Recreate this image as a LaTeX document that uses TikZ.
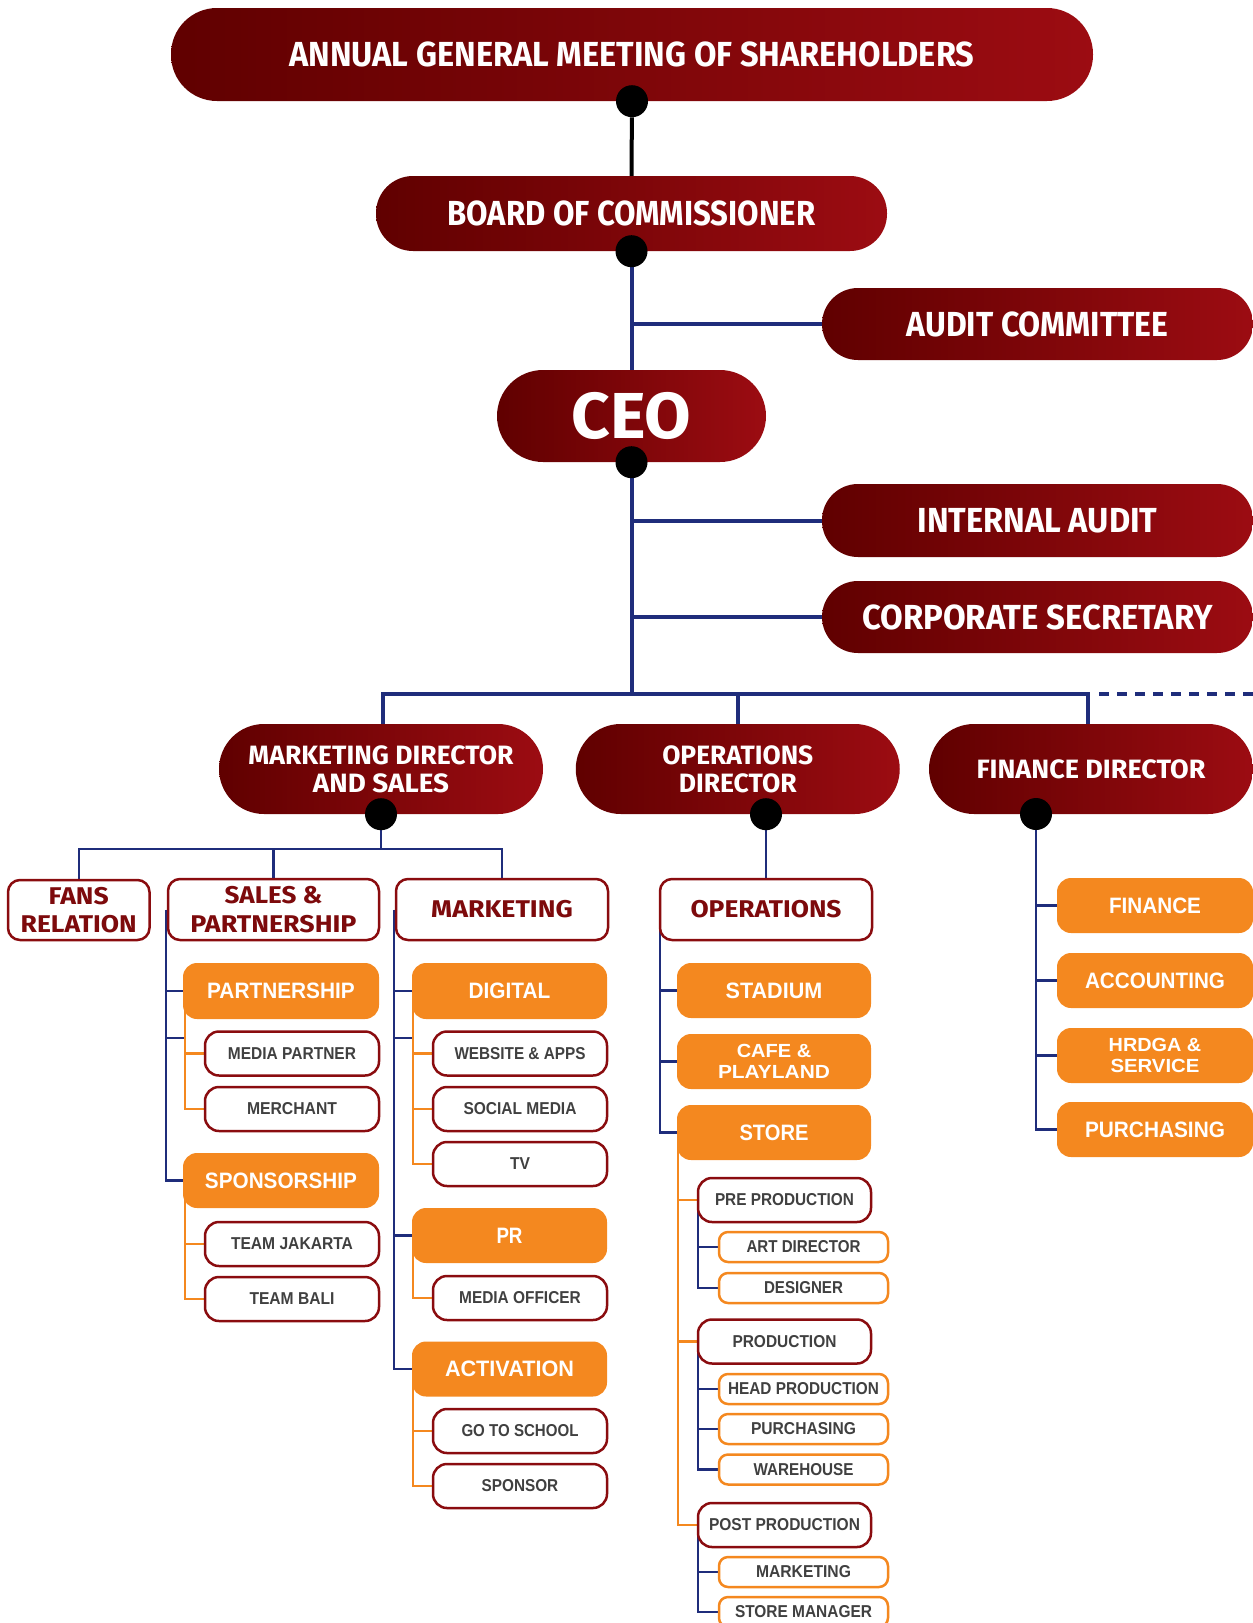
\documentclass[tikz,border=0pt]{standalone}
\usepackage{fontspec}
\usepackage{graphicx}
\setmainfont{Liberation Sans}
\newfontfamily\titlef{Fira Sans}
\definecolor{darkL}{HTML}{600000}
\definecolor{darkR}{HTML}{9C0C12}
\definecolor{navy}{HTML}{1F2D7B}
\definecolor{orng}{HTML}{F4881F}
\definecolor{boxred}{HTML}{8A0C0F}
\definecolor{txtred}{HTML}{7D0A0C}
\definecolor{txtgrey}{HTML}{404040}
\newcommand\TW[2]{\resizebox{#1pt}{\height}{#2}}
\pgfdeclarelayer{bg}
\pgfsetlayers{bg,main}
\tikzset{
  pill/.style={shade, left color=darkL, right color=darkR, text=white, inner sep=0pt, align=center},
  bigf/.style={font=\titlef\bfseries\fontsize{34.8}{40}\selectfont},
  dirf/.style={font=\titlef\bfseries\fontsize{26.5}{28}\selectfont},
  lvone/.style={draw=boxred, line width=2.5pt, fill=white, rounded corners=12pt, text=txtred, inner sep=0pt, align=center, minimum height=61pt, font=\titlef\bfseries\fontsize{24.2}{28.5}\selectfont},
  obox/.style={fill=orng, rounded corners=14pt, text=white, inner sep=0pt, align=center, minimum height=55pt, minimum width=195pt, font=\bfseries\fontsize{22.3}{26}\selectfont},
  otwo/.style={font=\bfseries\fontsize{19}{20.7}\selectfont},
  subw/.style={draw=boxred, line width=2.5pt, fill=white, rounded corners=14pt, text=txtgrey, inner sep=0pt, minimum height=44pt, minimum width=174pt, font=\bfseries\fontsize{17.2}{20}\selectfont},
  subo/.style={draw=orng, line width=2.5pt, fill=white, rounded corners=9pt, text=txtgrey, inner sep=0pt, minimum height=30pt, minimum width=169pt, font=\bfseries\fontsize{17.2}{20}\selectfont},
  dotn/.style={circle, fill=black, minimum size=32pt, inner sep=0pt},
  bthick/.style={draw=navy, line width=4pt},
  bline/.style={draw=navy, line width=2.5pt},
  oline/.style={draw=orng, line width=2.5pt}
}
\begin{document}
\begin{tikzpicture}[x=1pt,y=-1pt]
\useasboundingbox (0,0) rectangle (1253,1623);
\clip (0,0) rectangle (1253,1623);

% ---------- top level ----------
\node[pill, bigf, minimum width=922pt, minimum height=93pt, rounded corners=46pt] (agm) at (632,54.5) {\TW{685}{ANNUAL GENERAL MEETING OF SHAREHOLDERS}};
\node[pill, bigf, minimum width=511pt, minimum height=75pt, rounded corners=37pt] (board) at (631.5,213.5) {\TW{368}{BOARD OF COMMISSIONER}};
\node[pill, bigf, minimum width=431pt, minimum height=72pt, rounded corners=36pt] (ac) at (1037.5,324) {\TW{261.5}{AUDIT COMMITTEE}};
\node[pill, font=\titlef\bfseries\fontsize{65}{70}\selectfont, minimum width=269pt, minimum height=92pt, rounded corners=46pt] (ceo) at (631.5,416) {\TW{120}{CEO}};
\node[pill, bigf, minimum width=431pt, minimum height=73pt, rounded corners=36pt] (ia) at (1037.5,520.5) {\TW{240}{INTERNAL AUDIT}};
\node[pill, bigf, minimum width=431pt, minimum height=72pt, rounded corners=36pt] (cs) at (1037.5,617) {\TW{351}{CORPORATE SECRETARY}};

% ---------- directors ----------
\node[pill, dirf, minimum width=324pt, minimum height=90pt, rounded corners=45pt] (md) at (381,769) {\TW{265}{MARKETING DIRECTOR}\\\TW{136}{AND SALES}};
\node[pill, dirf, minimum width=324pt, minimum height=90pt, rounded corners=45pt] (od) at (737.75,769) {\TW{151}{OPERATIONS}\\\TW{118}{DIRECTOR}};
\node[pill, dirf, minimum width=324pt, minimum height=90pt, rounded corners=45pt] (fd) at (1091,769) {\TW{229}{FINANCE DIRECTOR}};

% ---------- level one ----------
\node[lvone, minimum width=141.5pt, minimum height=60pt] (fans) at (78.75,910) {\TW{60}{FANS}\\\TW{116}{RELATION}};
\node[lvone, minimum width=211pt] (sales) at (273.5,909.5) {\TW{97.7}{SALES \&}\\\TW{166}{PARTNERSHIP}};
\node[lvone, minimum width=212pt] (mkt) at (502,909.5) {\TW{141.5}{MARKETING}};
\node[lvone, minimum width=212pt] (ops) at (766,909.5) {\TW{151}{OPERATIONS}};

% ---------- orange boxes ----------
\node[obox, minimum width=196pt, minimum height=56pt] (part) at (281,991) {\TW{147.7}{PARTNERSHIP}};
\node[obox, minimum width=196pt] (spon) at (281,1180.5) {\TW{152}{SPONSORSHIP}};
\node[obox, minimum height=56pt] (dig) at (509.5,991) {\TW{81.7}{DIGITAL}};
\node[obox] (pr) at (509.5,1235.5) {\TW{26}{PR}};
\node[obox] (act) at (509.5,1369) {\TW{129}{ACTIVATION}};
\node[obox, minimum width=194pt] (stad) at (774,990.5) {\TW{96.6}{STADIUM}};
\node[obox, otwo, minimum width=194pt] (cafe) at (774,1061.5) {\TW{74.5}{CAFE \&}\\\TW{112}{PLAYLAND}};
\node[obox, minimum width=194pt] (store) at (774,1132.5) {\TW{69}{STORE}};
\node[obox, minimum width=196pt] (fin) at (1155,905.5) {\TW{92}{FINANCE}};
\node[obox, minimum width=196pt] (acc) at (1155,980.5) {\TW{140}{ACCOUNTING}};
\node[obox, otwo, minimum width=196pt] (hr) at (1155,1055.5) {\TW{92.7}{HRDGA \&}\\\TW{89}{SERVICE}};
\node[obox, minimum width=196pt] (fpur) at (1155,1129.5) {\TW{140}{PURCHASING}};

% ---------- white sub boxes ----------
\node[subw] (mp) at (292,1053.5) {\TW{128}{MEDIA PARTNER}};
\node[subw] (mer) at (292,1109) {\TW{90}{MERCHANT}};
\node[subw] (tj) at (292,1244) {\TW{122}{TEAM JAKARTA}};
\node[subw] (tb) at (292,1299) {\TW{85}{TEAM BALI}};
\node[subw] (web) at (520,1053.5) {\TW{131}{WEBSITE \& APPS}};
\node[subw] (soc) at (520,1109) {\TW{113}{SOCIAL MEDIA}};
\node[subw] (tv) at (520,1164) {\TW{20}{TV}};
\node[subw] (mo) at (520,1298) {\TW{121.7}{MEDIA OFFICER}};
\node[subw] (gts) at (520,1431) {\TW{117}{GO TO SCHOOL}};
\node[subw] (spr) at (520,1486) {\TW{76.6}{SPONSOR}};
\node[subw, minimum width=173pt] (pre) at (784.5,1200) {\TW{139}{PRE PRODUCTION}};
\node[subw, minimum width=173pt] (prod) at (784.5,1341.5) {\TW{104}{PRODUCTION}};
\node[subw, minimum width=173pt] (post) at (784.5,1525) {\TW{151}{POST PRODUCTION}};

% ---------- orange outline boxes ----------
\node[subo] (art) at (803.5,1247) {\TW{114}{ART DIRECTOR}};
\node[subo] (des) at (803.5,1288) {\TW{79}{DESIGNER}};
\node[subo] (head) at (803.5,1389) {\TW{151}{HEAD PRODUCTION}};
\node[subo] (pur) at (803.5,1429) {\TW{105}{PURCHASING}};
\node[subo] (ware) at (803.5,1469.5) {\TW{100}{WAREHOUSE}};
\node[subo] (smk) at (803.5,1572) {\TW{95}{MARKETING}};
\node[subo] (sm) at (803.5,1612) {\TW{137}{STORE MANAGER}};

% ---------- dots ----------
\node[dotn] (agmd) at (agm.south) {};
\node[dotn] (bd) at (board.south) {};
\node[dotn] (ceod) at (ceo.south) {};
\node[dotn] (mdd) at (md.south) {};
\node[dotn] (odd) at (ops.north |- od.south) {};
\node[dotn] (fdd) at (1036,814) {};

% ---------- connectors ----------
\coordinate (bus) at (631.5,694);
\coordinate (dA) at (1099,694);
\coordinate (dB) at (1253,694);
\coordinate (mdbus) at (381,849);
\coordinate (tA) at (167,1038);
\coordinate (tB) at (185,1038);
\coordinate (tC) at (395,1038);
\coordinate (tD) at (413,1038);
\begin{pgfonlayer}{bg}
\draw[line width=4pt, black] (agmd) -- (board.north);
\draw[bthick] (bd) -- (ceo.north);
\draw[bthick] (bd |- ac.west) -- (ac.west);
\draw[bthick] (ceod) -- (bus);
\draw[bthick] (ceod |- ia.west) -- (ia.west);
\draw[bthick] (ceod |- cs.west) -- (cs.west);
\draw[bthick] ([xshift=2pt]md.north) |- (bus) -| ([xshift=-3pt]fd.north);
\draw[bthick] (od.north) -- (od.north |- bus);
\draw[bthick, dash pattern=on 10pt off 8pt] (dA) -- (dB);

\draw[bline] (mdd) -- (mdbus);
\draw[bline] (fans.north) |- (mdbus) -| (mkt.north);
\draw[bline] (sales.north) -- (sales.north |- mdbus);

% sales
\draw[bline] ([xshift=-1pt]sales.west) |- (spon.west);
\draw[bline] ([xshift=-1pt]sales.west |- part.west) -- (part.west);
\draw[bline] (tA) -- (tB);
\draw[oline] ([xshift=2pt]part.west) |- (mer.west);
\draw[oline] ([xshift=2pt]part.west |- mp.west) -- (mp.west);
\draw[oline] ([xshift=2pt]spon.west) |- (tb.west);
\draw[oline] ([xshift=2pt]spon.west |- tj.west) -- (tj.west);

% marketing
\draw[bline] ([xshift=-1pt]mkt.west) |- (act.west);
\draw[bline] ([xshift=-1pt]mkt.west |- dig.west) -- (dig.west);
\draw[bline] ([xshift=-1pt]mkt.west |- pr.west) -- (pr.west);
\draw[bline] (tC) -- (tD);
\draw[oline] ([xshift=1pt]dig.west) |- (tv.west);
\draw[oline] ([xshift=1pt]dig.west |- web.west) -- (web.west);
\draw[oline] ([xshift=1pt]dig.west |- soc.west) -- (soc.west);
\draw[oline] ([xshift=1pt]pr.west) |- (mo.west);
\draw[oline] ([xshift=1pt]act.west) |- (spr.west);
\draw[oline] ([xshift=1pt]act.west |- gts.west) -- (gts.west);

% operations
\draw[bline] (odd) -- (ops.north);
\draw[bline] ([xshift=1pt]ops.west) |- (store.west);
\draw[bline] ([xshift=1pt]ops.west |- stad.west) -- (stad.west);
\draw[bline] ([xshift=1pt]ops.west |- cafe.west) -- (cafe.west);
\draw[oline] ([xshift=1pt]store.west) |- (post.west);
\draw[oline] ([xshift=1pt]store.west |- pre.west) -- (pre.west);
\draw[oline] ([xshift=1pt]store.west |- prod.west) -- (prod.west);
\draw[bline] ([xshift=1pt]pre.west) |- (des.west);
\draw[bline] ([xshift=1pt]pre.west |- art.west) -- (art.west);
\draw[bline] ([xshift=1pt]prod.west) |- (ware.west);
\draw[bline] ([xshift=1pt]prod.west |- head.west) -- (head.west);
\draw[bline] ([xshift=1pt]prod.west |- pur.west) -- (pur.west);
\draw[bline] ([xshift=1pt]post.west) |- (sm.west);
\draw[bline] ([xshift=1pt]post.west |- smk.west) -- (smk.west);

% finance
\draw[bline] (fdd) |- (fpur.west);
\draw[bline] (fdd |- fin.west) -- (fin.west);
\draw[bline] (fdd |- acc.west) -- (acc.west);
\draw[bline] (fdd |- hr.west) -- (hr.west);
\end{pgfonlayer}
\end{tikzpicture}
\end{document}
